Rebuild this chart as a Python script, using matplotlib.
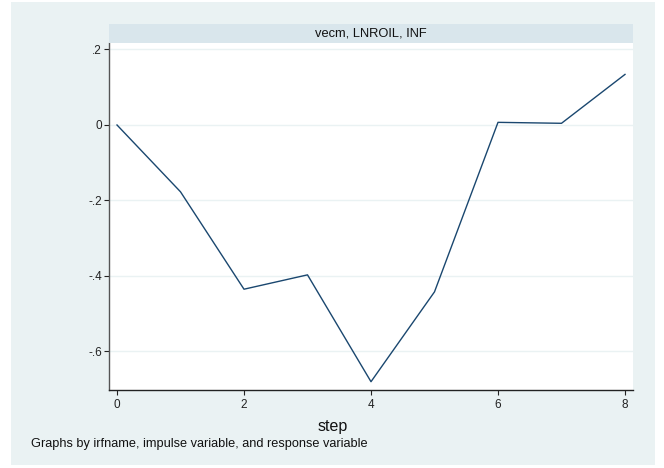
import matplotlib
matplotlib.use("Agg")
import matplotlib.pyplot as plt
from matplotlib.patches import Rectangle

steps = [0, 1, 2, 3, 4, 5, 6, 7, 8]
irf = [0.0, -0.177, -0.435, -0.397, -0.680, -0.442, 0.007, 0.0045, 0.134]
xticks = [0, 2, 4, 6, 8]
yticks = [0.2, 0.0, -0.2, -0.4, -0.6]
ytick_labels = [".2", "0", "-.2", "-.4", "-.6"]
panel_title = "vecm, LNROIL, INF"
xlabel = "step"
note = "Graphs by irfname, impulse variable, and response variable"

plt.rcParams['font.family'] = ['Liberation Sans', 'DejaVu Sans']

W, H = 664, 468
fig = plt.figure(figsize=(W / 100, H / 100), dpi=100, facecolor="white")

BG = "#EAF2F3"
STRIP = "#D9E6EC"

# outer graph background
fig.patches.append(Rectangle((11 / W, 1 - 465 / H), (655 - 11) / W, (465 - 2) / H,
                             transform=fig.transFigure, facecolor=BG, edgecolor="none", zorder=-10))

L, R, T, B = 109, 633, 43, 390
ax = fig.add_axes([L / W, 1 - B / H, (R - L) / W, (B - T) / H])
ax.set_zorder(2)
ax.set_facecolor("white")
ax.plot(steps, irf, color="#1a476f", lw=1.0, zorder=3)
ax.set_xlim(-0.126, 8.126)
ax.set_ylim(-0.702, 0.2172)
ax.set_xticks(xticks)
ax.set_xticklabels([str(x) for x in xticks])
ax.set_yticks(yticks)
ax.set_yticklabels(ytick_labels)
ax.grid(axis="y", color=BG, lw=1.0, zorder=1)
ax.grid(axis="x", visible=False)
for s in ["top", "right"]:
    ax.spines[s].set_visible(False)
ax.spines["left"].set_color("#555555")
ax.spines["bottom"].set_color("#222222")
ax.spines["left"].set_linewidth(1.0)
ax.spines["bottom"].set_linewidth(1.0)
ax.tick_params(axis="y", length=3.5, width=0.8, pad=1.5, labelsize=8.5, colors="#222222")
ax.tick_params(axis="x", length=3.5, width=0.8, pad=3, labelsize=8.5, colors="#222222")

# title strip
sax = fig.add_axes([L / W, 1 - 43 / H, (R - L) / W, (43 - 24) / H])
sax.set_zorder(2)
sax.set_facecolor(STRIP)
sax.set_xticks([]); sax.set_yticks([])
for s in sax.spines.values():
    s.set_visible(False)
sax.text(0.5, 0.48, panel_title, ha="center", va="center", fontsize=9.3, color="#111111",
         transform=sax.transAxes)

fig.text(333 / W, 1 - 427 / H, xlabel, ha="center", va="center", fontsize=11.5, color="#111111")
fig.text(31 / W, 1 - 444 / H, note, ha="left", va="center", fontsize=9.2, color="#111111")

fig.savefig("out.png", dpi=100, facecolor="white")
